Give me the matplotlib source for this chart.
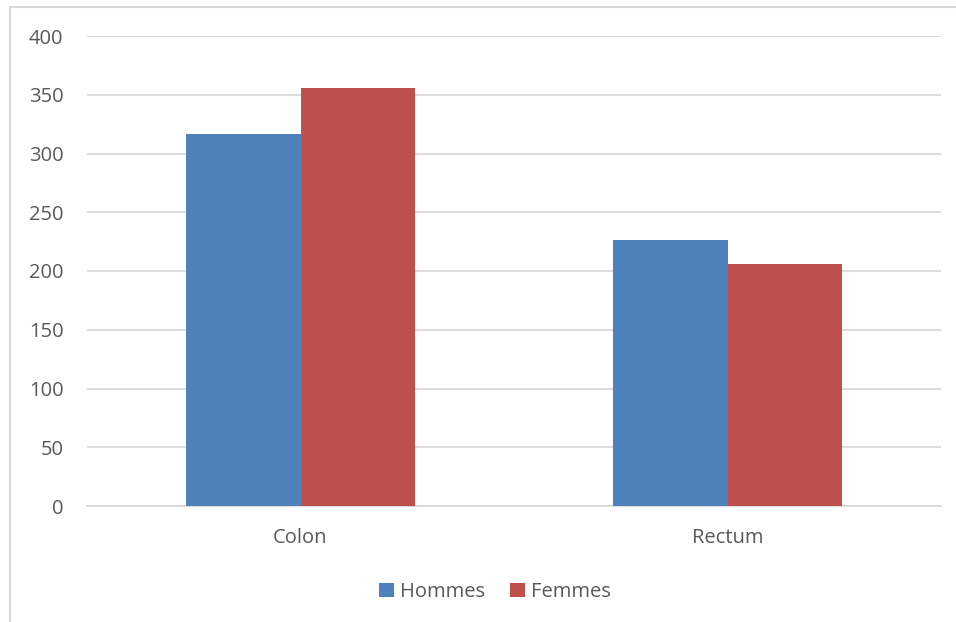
import matplotlib.pyplot as plt
from matplotlib.patches import Rectangle
import numpy as np

categories = ['Colon', 'Rectum']
hommes = [317, 226]
femmes = [356, 206]
yticks = [0, 50, 100, 150, 200, 250, 300, 350, 400]

blue = '#4F81BD'
red = '#C0504D'
grid = '#D9D9D9'
text_col = '#595959'

plt.rcParams['font.family'] = ['Open Sans', 'DejaVu Sans']

W, H = 956, 622
fig = plt.figure(figsize=(W / 100, H / 100), dpi=100)
ax = fig.add_axes([87 / W, 1 - 506 / H, (941 - 87) / W, (506 - 36) / H])

# chart area frame (right and bottom edges fall outside the image)
fig.patches.append(Rectangle((10 / W, -0.1), 1.0, 1 - 7 / H + 0.1,
                             transform=fig.transFigure, fill=False,
                             edgecolor=grid, linewidth=1.5))

x = np.arange(len(categories))
w = 0.268
ax.bar(x - w / 2, hommes, w, color=blue, label='Hommes', zorder=3)
ax.bar(x + w / 2, femmes, w, color=red, label='Femmes', zorder=3)

ax.set_xlim(-0.5, 1.5)
ax.set_ylim(0, 400)
ax.set_yticks(yticks)
ax.set_xticks(x)
ax.set_xticklabels(categories)
ax.yaxis.grid(True, color=grid, linewidth=1.3, zorder=0)
ax.tick_params(axis='both', length=0, labelsize=14.5, labelcolor=text_col)
ax.tick_params(axis='y', pad=17)
ax.tick_params(axis='x', pad=16)
for s in ['top', 'right', 'left']:
    ax.spines[s].set_visible(False)
ax.spines['bottom'].set_color(grid)
ax.spines['bottom'].set_linewidth(1.3)

fig.legend(loc='center', bbox_to_anchor=(495 / W, 1 - 592 / H), ncol=2,
           frameon=False, fontsize=14.5, labelcolor=text_col,
           handlelength=0.75, handleheight=0.75, handletextpad=0.3,
           columnspacing=1.2)

fig.savefig('out.png', dpi=100)
